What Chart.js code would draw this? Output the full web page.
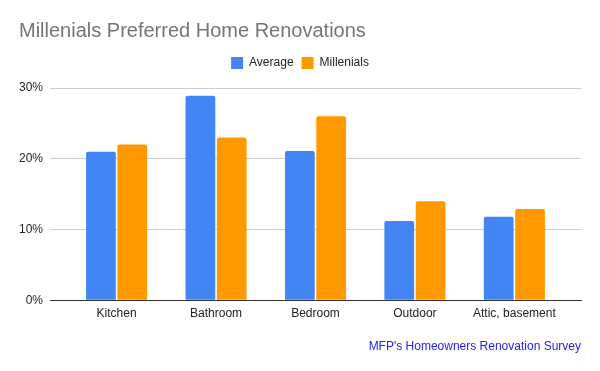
<!DOCTYPE html>
<html>
<head>
<meta charset="utf-8">
<script src="https://cdn.jsdelivr.net/npm/chart.js@4"></script>
<style>
  html, body { margin: 0; padding: 0; background: #fff; }
  #wrap { width: 600px; height: 371px; }
</style>
</head>
<body>
<div id="wrap"><canvas id="chart"></canvas></div>
<script>
const categories = ['Kitchen', 'Bathroom', 'Bedroom', 'Outdoor', 'Attic, basement']
const average = [21, 28.9, 21.1, 11.2, 11.8]
const millenials = [22, 23, 26, 14, 12.9]
const yTicks = [0, 10, 20, 30]

Chart.defaults.font.family = '"Liberation Sans", Arial, sans-serif'
Chart.defaults.color = '#222'

// give the legend a little more room below it
const legendGap = {
    id: 'legendGap',
    beforeInit(chart) {
        const fit = chart.legend.fit
        chart.legend.fit = function() {
            fit.bind(chart.legend)()
            this.height += 9
        }
    }
}

const ctx = document.getElementById('chart').getContext('2d')
const myChart = new Chart(ctx, {
    type: 'bar',
    data: {
        labels: categories,
        datasets: [{
            label: 'Average',
            data: average,
            backgroundColor: '#4285f4',
            borderRadius: 2,
            borderSkipped: 'bottom'
        }, {
            label: 'Millenials',
            data: millenials,
            backgroundColor: '#ff9900',
            borderRadius: 2,
            borderSkipped: 'bottom'
        }]
    },
    options: {
        responsive: true,
        maintainAspectRatio: false,
        animation: false,
        datasets: {
            bar: { categoryPercentage: 0.63, barPercentage: 0.95 }
        },
        layout: { padding: { left: 19, right: 19, top: 19, bottom: 17 } },
        plugins: {
            title: {
                display: true,
                text: 'Millenials Preferred Home Renovations',
                align: 'start',
                color: '#757575',
                font: { size: 20, weight: 'normal' },
                padding: { top: 0, bottom: 6 }
            },
            legend: {
                position: 'top',
                labels: {
                    boxWidth: 12,
                    boxHeight: 12,
                    padding: 8,
                    font: { size: 12 },
                    color: '#222'
                }
            },
            subtitle: {
                display: true,
                position: 'bottom',
                align: 'end',
                text: "MFP's Homeowners Renovation Survey",
                color: '#2222ee',
                font: { size: 12 },
                padding: { top: 13, bottom: 0 }
            },
            tooltip: { enabled: false }
        },
        scales: {
            x: {
                grid: { display: false, drawTicks: false },
                border: { display: true, color: '#333', width: 1 },
                ticks: { font: { size: 12 }, color: '#222', padding: 6 },
                // extra space at both ends of the category axis
                afterUpdate: axis => {
                    axis._startValue -= 0.17
                    axis._valueRange += 0.34
                }
            },
            y: {
                min: 0,
                max: 30,
                afterBuildTicks: axis => { axis.ticks = yTicks.map(v => ({ value: v })) },
                afterFit: axis => { axis.width = 31 },
                grid: { color: '#cccccc', drawTicks: false },
                border: { display: false },
                ticks: {
                    font: { size: 12 },
                    color: '#222',
                    padding: 7,
                    callback: function(value){ return value + '%' }
                }
            }
        }
    },
    plugins: [legendGap]
})
</script>
</body>
</html>
